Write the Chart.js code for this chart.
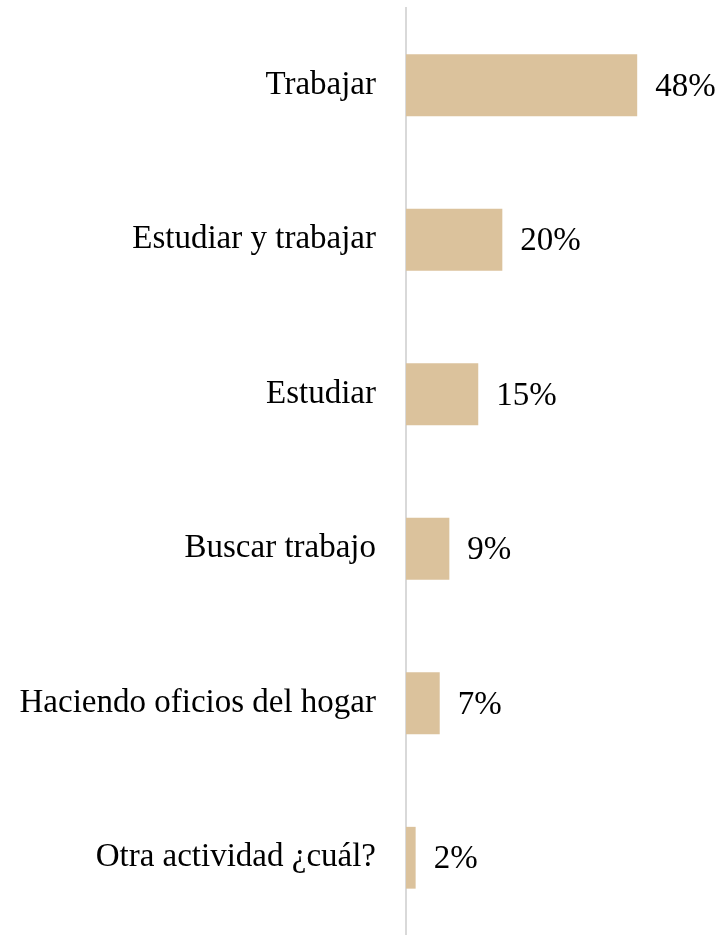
<!DOCTYPE html>
<html>
<head>
<meta charset="utf-8">
<script src="https://cdn.jsdelivr.net/npm/chart.js@4"></script>
<style>
  html, body { margin: 0; padding: 0; background: #fff; }
  #wrap { position: relative; width: 723px; height: 935px; }
</style>
</head>
<body>
<div id="wrap"><canvas id="c"></canvas></div>
<script>
const categories = ["Trabajar", "Estudiar y trabajar", "Estudiar", "Buscar trabajo", "Haciendo oficios del hogar", "Otra actividad ¿cuál?"];
const values = [48, 20, 15, 9, 7, 2];
const valueLabels = ["48%", "20%", "15%", "9%", "7%", "2%"];

const FONT = "'Liberation Serif', 'Times New Roman', serif";

const valueLabelPlugin = {
  id: 'valueLabels',
  afterDatasetsDraw(chart) {
    const ctx = chart.ctx;
    const meta = chart.getDatasetMeta(0);
    ctx.save();
    ctx.font = "33px " + FONT;
    ctx.fillStyle = "#000";
    ctx.textAlign = "left";
    ctx.textBaseline = "middle";
    meta.data.forEach((bar, i) => {
      ctx.fillText(valueLabels[i], bar.x + 18, bar.y + 2);
    });
    ctx.restore();
  }
};

new Chart(document.getElementById('c'), {
  type: 'bar',
  data: {
    labels: categories,
    datasets: [{
      data: values,
      backgroundColor: '#dbc29c',
      borderWidth: 0,
      barPercentage: 0.4,
      categoryPercentage: 1.0
    }]
  },
  options: {
    indexAxis: 'y',
    responsive: true,
    maintainAspectRatio: false,
    animation: false,
    layout: { padding: { top: 8, right: 28, bottom: 0, left: 0 } },
    plugins: { legend: { display: false }, tooltip: { enabled: false } },
    scales: {
      x: {
        display: false,
        min: 0,
        max: 60
      },
      y: {
        afterFit(scale) { scale.width = 406; scale.paddingTop = 0; scale.paddingBottom = 0; },
        grid: { display: true, color: 'rgba(0,0,0,0)', drawTicks: false },
        border: { display: true, color: '#d9d9d9', width: 2 },
        ticks: {
          color: '#000',
          padding: 30,
          font: { family: FONT, size: 33 }
        }
      }
    }
  },
  plugins: [valueLabelPlugin]
});
</script>
</body>
</html>
